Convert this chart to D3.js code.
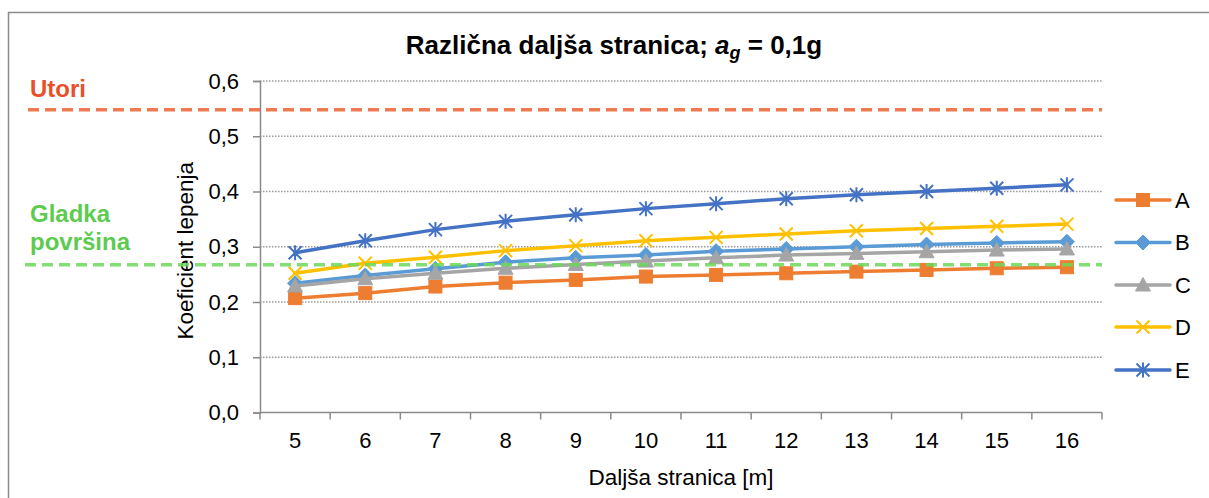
<!DOCTYPE html>
<html>
<head>
<meta charset="utf-8">
<script src="https://cdn.jsdelivr.net/npm/d3@7"></script>
<style>
  body { margin: 0; background: #fff; }
  svg text { font-family: "Liberation Sans", Arial, sans-serif; }
</style>
</head>
<body>
<svg id="chart" width="1209" height="498"></svg>
<script>
// Longer side of the slab [m]
const categories = [5, 6, 7, 8, 9, 10, 11, 12, 13, 14, 15, 16];

// Adhesion coefficient per case
const valuesA = [0.207, 0.216, 0.228, 0.235, 0.240, 0.246, 0.249, 0.252, 0.255, 0.258, 0.261, 0.263];
const valuesB = [0.234, 0.248, 0.260, 0.272, 0.280, 0.285, 0.292, 0.296, 0.300, 0.304, 0.307, 0.309];
const valuesC = [0.229, 0.242, 0.252, 0.261, 0.268, 0.274, 0.280, 0.285, 0.288, 0.291, 0.294, 0.296];
const valuesD = [0.252, 0.270, 0.281, 0.293, 0.302, 0.311, 0.317, 0.323, 0.329, 0.333, 0.337, 0.341];
const valuesE = [0.289, 0.311, 0.331, 0.346, 0.358, 0.369, 0.378, 0.387, 0.394, 0.400, 0.406, 0.412];

const seriesNames = ["A", "B", "C", "D", "E"];
const yTicks = [0, 0.1, 0.2, 0.3, 0.4, 0.5, 0.6];

// Reference levels
const refUtori = 0.548;
const refGladka = 0.2675;

const series = [
  { name: seriesNames[0], values: valuesA, color: "#ED7D31", marker: "square" },
  { name: seriesNames[1], values: valuesB, color: "#5B9BD5", marker: "diamond" },
  { name: seriesNames[2], values: valuesC, color: "#A5A5A5", marker: "triangle" },
  { name: seriesNames[3], values: valuesD, color: "#FFC000", marker: "x" },
  { name: seriesNames[4], values: valuesE, color: "#4472C4", marker: "star" }
];

const svg = d3.select("#chart");
const fontSize = 22;

// Outer frame
svg.append("rect")
  .attr("x", 8.5).attr("y", 12.5)
  .attr("width", 1220).attr("height", 520)
  .attr("fill", "none").attr("stroke", "#8a8a8a").attr("stroke-width", 1.5);

const plot = { left: 260, right: 1102, top: 81, bottom: 412.5 };

const x = d3.scaleBand().domain(categories).range([plot.left, plot.right]).padding(0);
const y = d3.scaleLinear().domain([0, 0.6]).range([plot.bottom, plot.top]);
const cx = d => x(d) + x.bandwidth() / 2;

// Gridlines
svg.append("g")
  .selectAll("line")
  .data(yTicks.filter(t => t > 0))
  .join("line")
  .attr("x1", plot.left).attr("x2", plot.right)
  .attr("y1", d => y(d)).attr("y2", d => y(d))
  .attr("stroke", "#9a9a9a").attr("stroke-width", 1.3)
  .attr("stroke-dasharray", "1.5,1.5");

// Y axis
const yAxis = d3.axisLeft(y)
  .tickValues(yTicks)
  .tickSize(7)
  .tickPadding(14)
  .tickFormat(d => d3.format(".1f")(d).replace(".", ","));
const gy = svg.append("g").attr("transform", `translate(${plot.left},0)`).call(yAxis);
gy.select(".domain").attr("stroke", "#8a8a8a").attr("stroke-width", 1.5);
gy.selectAll(".tick line").attr("stroke", "#8a8a8a").attr("stroke-width", 1.5);
gy.selectAll(".tick text")
  .attr("font-size", fontSize).attr("fill", "#000")
  .attr("font-family", "Liberation Sans, Arial, sans-serif");

// X axis: category labels centred in bands, ticks on band edges
const xAxis = d3.axisBottom(x).tickSize(0).tickPadding(20);
const gx = svg.append("g").attr("transform", `translate(0,${plot.bottom})`).call(xAxis);
gx.select(".domain").remove();
gx.selectAll(".tick text")
  .attr("font-size", fontSize).attr("fill", "#000")
  .attr("font-family", "Liberation Sans, Arial, sans-serif");
svg.append("line")
  .attr("x1", plot.left).attr("x2", plot.right)
  .attr("y1", plot.bottom).attr("y2", plot.bottom)
  .attr("stroke", "#8a8a8a").attr("stroke-width", 1.5);
const edges = categories.map(c => x(c)).concat([plot.right]);
svg.append("g").selectAll("line").data(edges).join("line")
  .attr("x1", d => d).attr("x2", d => d)
  .attr("y1", plot.bottom).attr("y2", plot.bottom + 7)
  .attr("stroke", "#8a8a8a").attr("stroke-width", 1.5);

// Axis titles
svg.append("text")
  .attr("x", (plot.left + plot.right) / 2).attr("y", 485)
  .attr("text-anchor", "middle").attr("font-size", 22.5)
  .text("Daljša stranica [m]");
svg.append("text")
  .attr("transform", `translate(193,${(plot.top + plot.bottom) / 2 + 4}) rotate(-90)`)
  .attr("text-anchor", "middle").attr("font-size", 22.5)
  .text("Koeficient lepenja");

// Chart title
const title = svg.append("text")
  .attr("x", 614).attr("y", 54)
  .attr("text-anchor", "middle").attr("font-size", 26).attr("font-weight", "bold");
title.append("tspan").text("Različna daljša stranica; ");
title.append("tspan").attr("font-style", "italic").text("a");
title.append("tspan").attr("font-style", "italic").attr("font-size", 18).attr("dy", 5).text("g");
title.append("tspan").attr("dy", -5).text(" = 0,1g");

// Marker drawing
function drawMarker(g, type, color, px, py) {
  if (type === "square") {
    g.append("rect").attr("x", px - 6.5).attr("y", py - 6.5).attr("width", 13).attr("height", 13)
      .attr("fill", color).attr("stroke", color).attr("stroke-width", 1);
  } else if (type === "diamond") {
    const h = 7.5;
    g.append("path").attr("d", `M${px},${py - h}L${px + h},${py}L${px},${py + h}L${px - h},${py}Z`)
      .attr("fill", color).attr("stroke", color).attr("stroke-width", 1);
  } else if (type === "triangle") {
    const h = 7.5;
    g.append("path").attr("d", `M${px},${py - h}L${px + h},${py + h * 0.8}L${px - h},${py + h * 0.8}Z`)
      .attr("fill", color).attr("stroke", color).attr("stroke-width", 1);
  } else if (type === "x") {
    const h = 6.5;
    g.append("path").attr("d", `M${px - h},${py - h}L${px + h},${py + h}M${px - h},${py + h}L${px + h},${py - h}`)
      .attr("fill", "none").attr("stroke", color).attr("stroke-width", 2);
  } else if (type === "star") {
    const h = 6.5;
    g.append("path").attr("d",
      `M${px - h},${py - h}L${px + h},${py + h}M${px - h},${py + h}L${px + h},${py - h}M${px},${py - h - 1}L${px},${py + h + 1}`)
      .attr("fill", "none").attr("stroke", color).attr("stroke-width", 2);
  }
}

// Series lines and markers
const line = d3.line().x((d, i) => cx(categories[i])).y(d => y(d));
series.forEach(s => {
  const g = svg.append("g");
  g.append("path").attr("d", line(s.values))
    .attr("fill", "none").attr("stroke", s.color).attr("stroke-width", 3.5)
    .attr("stroke-linejoin", "round").attr("stroke-linecap", "round");
  s.values.forEach((v, i) => drawMarker(g, s.marker, s.color, cx(categories[i]), y(v)));
});

// Reference levels
svg.append("line")
  .attr("x1", 28).attr("x2", plot.right)
  .attr("y1", y(refUtori)).attr("y2", y(refUtori))
  .attr("stroke", "#EE6A3F").attr("stroke-opacity", 0.9).attr("stroke-width", 3.5)
  .attr("stroke-dasharray", "11,6");
svg.append("line")
  .attr("x1", 25).attr("x2", plot.right)
  .attr("y1", y(refGladka)).attr("y2", y(refGladka))
  .attr("stroke", "#6CD85A").attr("stroke-opacity", 0.85).attr("stroke-width", 3.5)
  .attr("stroke-dasharray", "11,6");

svg.append("text").attr("x", 30).attr("y", 97)
  .attr("font-size", 24).attr("font-weight", "bold").attr("fill", "#E8502A")
  .text("Utori");
const gl = svg.append("text").attr("font-size", 24).attr("font-weight", "bold").attr("fill", "#5DCB4F");
gl.append("tspan").attr("x", 30).attr("y", 222).text("Gladka");
gl.append("tspan").attr("x", 30).attr("y", 250).text("površina");

// Legend
const legendY = [200, 242.5, 285, 327, 370];
series.forEach((s, i) => {
  const g = svg.append("g");
  const ly = legendY[i];
  g.append("line").attr("x1", 1116).attr("x2", 1170).attr("y1", ly).attr("y2", ly)
    .attr("stroke", s.color).attr("stroke-width", 3.5).attr("stroke-linecap", "round");
  drawMarker(g, s.marker, s.color, 1143, ly);
  g.append("text").attr("x", 1175).attr("y", ly).attr("dy", "0.36em")
    .attr("font-size", fontSize).text(s.name);
});
</script>
</body>
</html>
